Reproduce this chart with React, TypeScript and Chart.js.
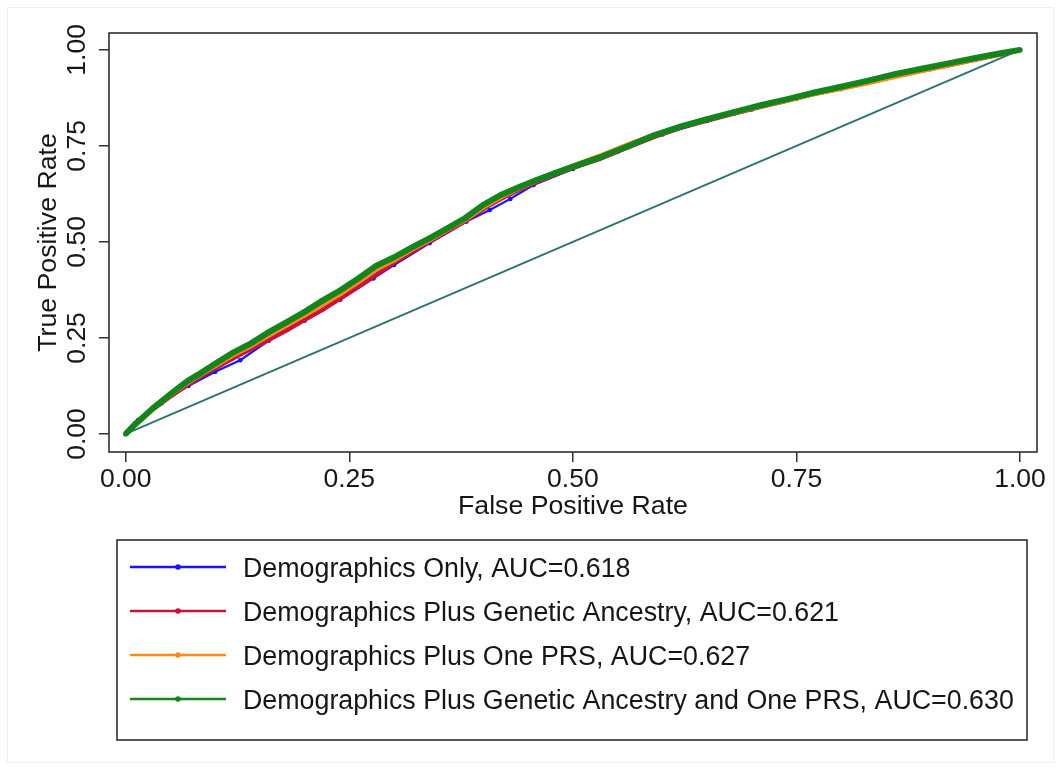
import React, { useEffect, useRef } from 'react';
import { Chart, registerables } from 'chart.js';

Chart.register(...registerables);

// False positive rate grid shared by three of the curves
const FPR = [0, 0.01, 0.02, 0.03, 0.04, 0.05, 0.06, 0.07, 0.08, 0.09, 0.1, 0.12, 0.14, 0.16, 0.18, 0.2, 0.22, 0.24, 0.26, 0.28, 0.3, 0.32, 0.34, 0.36, 0.38, 0.4, 0.42, 0.44, 0.46, 0.48, 0.5, 0.53, 0.56, 0.59, 0.62, 0.65, 0.68, 0.71, 0.74, 0.77, 0.8, 0.83, 0.86, 0.89, 0.92, 0.95, 0.98, 1];

const TPR_GREEN = [0, 0.024, 0.045, 0.066, 0.085, 0.104, 0.122, 0.139, 0.153, 0.168, 0.183, 0.212, 0.236, 0.265, 0.291, 0.318, 0.347, 0.374, 0.405, 0.438, 0.46, 0.486, 0.51, 0.536, 0.563, 0.597, 0.623, 0.643, 0.662, 0.679, 0.696, 0.72, 0.748, 0.777, 0.8, 0.82, 0.838, 0.856, 0.872, 0.889, 0.904, 0.92, 0.937, 0.951, 0.965, 0.979, 0.992, 1];

const TPR_ORANGE = [0, 0.022, 0.043, 0.064, 0.083, 0.101, 0.118, 0.134, 0.149, 0.163, 0.177, 0.205, 0.229, 0.256, 0.283, 0.309, 0.337, 0.364, 0.395, 0.428, 0.452, 0.48, 0.505, 0.532, 0.558, 0.59, 0.617, 0.64, 0.66, 0.679, 0.698, 0.724, 0.752, 0.779, 0.8, 0.819, 0.836, 0.853, 0.868, 0.885, 0.899, 0.914, 0.93, 0.945, 0.96, 0.975, 0.99, 1];

const TPR_RED = [0, 0.027, 0.046, 0.064, 0.081, 0.098, 0.114, 0.13, 0.144, 0.158, 0.171, 0.197, 0.221, 0.245, 0.27, 0.297, 0.323, 0.353, 0.383, 0.414, 0.446, 0.474, 0.502, 0.528, 0.555, 0.586, 0.613, 0.636, 0.656, 0.675, 0.693, 0.716, 0.745, 0.773, 0.797, 0.816, 0.834, 0.852, 0.868, 0.886, 0.9, 0.915, 0.932, 0.946, 0.96, 0.975, 0.989, 1];

const FPR_BLUE = [0, 0.014, 0.04, 0.07, 0.1, 0.128, 0.16, 0.2, 0.24, 0.277, 0.3, 0.34, 0.381, 0.407, 0.43, 0.456, 0.5, 0.55, 0.6, 0.65, 0.7, 0.75, 0.8, 0.85, 0.9, 0.95, 1];
const TPR_BLUE = [0, 0.036, 0.08, 0.125, 0.162, 0.192, 0.243, 0.295, 0.35, 0.405, 0.44, 0.497, 0.553, 0.583, 0.612, 0.648, 0.69, 0.735, 0.78, 0.815, 0.845, 0.873, 0.898, 0.925, 0.95, 0.974, 1];

const DIAG_X = [0, 1];
const DIAG_Y = [0, 1];

const TICK_VALUES = [0, 0.25, 0.5, 0.75, 1];
const TICK_LABELS = ['0.00', '0.25', '0.50', '0.75', '1.00'];

const SERIES_LABELS = [
  'Demographics Only, AUC=0.618',
  'Demographics Plus Genetic Ancestry, AUC=0.621',
  'Demographics Plus One PRS, AUC=0.627',
  'Demographics Plus Genetic Ancestry and One PRS, AUC=0.630',
];
const SERIES_COLORS = ['#1414ff', '#c8143c', '#ff8a1c', '#12861a'];
const DIAG_COLOR = '#2d7373';

const FONT = '"Liberation Sans", Arial, Helvetica, sans-serif';
const TEXT = '#161616';

export default function App() {
  const ref = useRef<HTMLCanvasElement>(null);

  useEffect(() => {
    document.body.style.margin = '0';
    const canvas = ref.current!;
    const pts = (xs: number[], ys: number[]) => xs.map((x, i) => ({ x, y: ys[i] }));

    const custom = {
      id: 'custom',
      beforeDraw(chart: any) {
        const ctx = chart.ctx;
        ctx.save();
        ctx.fillStyle = '#ffffff';
        ctx.fillRect(0, 0, chart.width, chart.height);
        ctx.strokeStyle = '#efefef';
        ctx.lineWidth = 1;
        ctx.strokeRect(7.5, 7.5, 1046, 755);
        ctx.restore();
      },
      afterDraw(chart: any) {
        const ctx = chart.ctx;
        const a = chart.chartArea;
        ctx.save();
        // plot frame
        ctx.strokeStyle = '#222';
        ctx.lineWidth = 1.5;
        ctx.strokeRect(a.left, a.top, a.right - a.left, a.bottom - a.top);

        // rotated y tick labels
        const ys = chart.scales.y;
        ctx.fillStyle = TEXT;
        ctx.font = `26.5px ${FONT}`;
        ctx.textAlign = 'center';
        ctx.textBaseline = 'alphabetic';
        ys.ticks.forEach((t: any) => {
          const py = ys.getPixelForValue(t.value);
          ctx.save();
          ctx.translate(85, py);
          ctx.rotate(-Math.PI / 2);
          ctx.fillText(TICK_LABELS[TICK_VALUES.indexOf(t.value)] ?? String(t.value), 0, 0);
          ctx.restore();
        });

        // legend box
        const lx = 117, ly = 540, lw = 910, lh = 200;
        ctx.strokeStyle = '#222';
        ctx.lineWidth = 1.5;
        ctx.strokeRect(lx, ly, lw, lh);
        ctx.textAlign = 'left';
        ctx.font = `26.8px ${FONT}`;
        SERIES_LABELS.forEach((label, i) => {
          const cy = 567 + i * 44;
          ctx.strokeStyle = SERIES_COLORS[i];
          ctx.lineWidth = 2.5;
          ctx.beginPath();
          ctx.moveTo(130, cy);
          ctx.lineTo(226, cy);
          ctx.stroke();
          ctx.fillStyle = SERIES_COLORS[i];
          ctx.beginPath();
          ctx.arc(178, cy, 2.8, 0, Math.PI * 2);
          ctx.fill();
          ctx.fillStyle = TEXT;
          ctx.fillText(label, 243, cy + 9.5);
        });
        ctx.restore();
      },
    };

    const chart = new Chart(canvas, {
      type: 'line',
      data: {
        datasets: [
          {
            label: SERIES_LABELS[3], data: pts(FPR, TPR_GREEN), borderColor: SERIES_COLORS[3], backgroundColor: SERIES_COLORS[3],
            borderWidth: 6, pointRadius: 2.6, pointBorderWidth: 0, order: 0,
          },
          {
            label: SERIES_LABELS[2], data: pts(FPR, TPR_ORANGE), borderColor: SERIES_COLORS[2], backgroundColor: SERIES_COLORS[2],
            borderWidth: 4.5, pointRadius: 2, pointBorderWidth: 0, order: 1,
          },
          {
            label: SERIES_LABELS[1], data: pts(FPR, TPR_RED), borderColor: SERIES_COLORS[1], backgroundColor: SERIES_COLORS[1],
            borderWidth: 4.5, pointRadius: 2, pointBorderWidth: 0, order: 2,
          },
          {
            label: SERIES_LABELS[0], data: pts(FPR_BLUE, TPR_BLUE), borderColor: SERIES_COLORS[0], backgroundColor: SERIES_COLORS[0],
            borderWidth: 2.2, pointRadius: 2.4, pointBorderWidth: 0, order: 3,
          },
          {
            label: 'Reference', data: pts(DIAG_X, DIAG_Y), borderColor: DIAG_COLOR, backgroundColor: DIAG_COLOR,
            borderWidth: 2, pointRadius: 0, order: 4,
          },
        ],
      },
      options: {
        responsive: false,
        animation: false,
        devicePixelRatio: 1,
        layout: { padding: { left: 0, right: 24, top: 33, bottom: 238 } },
        plugins: { legend: { display: false }, tooltip: { enabled: false } },
        scales: {
          x: {
            type: 'linear',
            min: -0.0187,
            max: 1.019,
            afterBuildTicks: (s: any) => { s.ticks = TICK_VALUES.map((v) => ({ value: v })); },
            afterFit: (s: any) => { s.height = 80; },
            grid: { drawOnChartArea: false, drawTicks: true, tickLength: 10, color: '#333', lineWidth: 1.5 },
            border: { display: false },
            ticks: {
              autoSkip: false, maxRotation: 0, minRotation: 0, padding: 2,
              color: TEXT, font: { family: FONT, size: 26.5 },
              callback: (v: any) => TICK_LABELS[TICK_VALUES.indexOf(v)] ?? '',
            },
            title: {
              display: true, text: 'False Positive Rate', color: TEXT,
              font: { family: FONT, size: 26.7 }, padding: { top: 0, bottom: 9.2 },
            },
          },
          y: {
            type: 'linear',
            min: -0.047,
            max: 1.044,
            afterBuildTicks: (s: any) => { s.ticks = TICK_VALUES.map((v) => ({ value: v })); },
            afterFit: (s: any) => { s.width = 109; },
            grid: { drawOnChartArea: false, drawTicks: true, tickLength: 10, color: '#333', lineWidth: 1.5 },
            border: { display: false },
            ticks: { display: false },
            title: {
              display: true, text: 'True Positive Rate', color: TEXT,
              font: { family: FONT, size: 26.7 }, padding: { top: 32.2, bottom: 0 },
            },
          },
        },
      },
      plugins: [custom],
    } as any);

    return () => chart.destroy();
  }, []);

  return <canvas ref={ref} width={1061} height={770} style={{ display: 'block', width: 1061, height: 770 }} />;
}
